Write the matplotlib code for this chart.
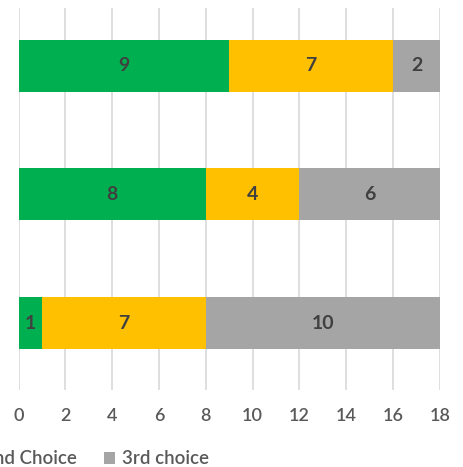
import matplotlib
matplotlib.use("Agg")
import matplotlib.pyplot as plt
from matplotlib.patches import Patch

categories = ["C", "B", "A"]  # bottom to top (labels off-canvas in reference)
first_choice = [1, 8, 9]
second_choice = [7, 4, 7]
third_choice = [10, 6, 2]
series_names = ["1st Choice", "2nd Choice", "3rd choice"]
colors = ["#00B050", "#FFC000", "#A5A5A5"]
xticks = list(range(0, 20, 2))

plt.rcParams['font.family'] = ['Lato', 'DejaVu Sans']

W, H = 464, 467
fig = plt.figure(figsize=(W / 100, H / 100), dpi=100)
ax = fig.add_axes([18.5 / W, 1 - 390 / H, (440 - 18.5) / W, 382 / H])

ypos = list(range(len(categories)))
left = [0] * len(categories)
for vals, col in zip([first_choice, second_choice, third_choice], colors):
    ax.barh(ypos, vals, left=left, height=0.404, color=col, zorder=3)
    for y, v, l in zip(ypos, vals, left):
        ax.text(l + v / 2, y, str(v), ha='center', va='center', fontsize=14,
                fontweight='bold', color='#404040', zorder=4)
    left = [a + b for a, b in zip(left, vals)]

ax.set_xlim(0, 18)
ax.set_ylim(-0.520, 2.447)
ax.set_xticks(xticks)
ax.set_xticklabels([str(t) for t in xticks], fontsize=13, color='#595959',
                   fontweight='semibold')
ax.set_yticks([])
ax.tick_params(axis='x', length=0, pad=13)
ax.grid(axis='x', color='#D9D9D9', linewidth=1.2, zorder=0)
for s in ax.spines.values():
    s.set_visible(False)

handles = [Patch(facecolor=c, edgecolor='none') for c in colors]
leg = fig.legend(handles, series_names, loc='center left', ncol=3,
                 bbox_to_anchor=(0, 1 - 459 / H), frameon=False,
                 prop={'size': 13.4, 'weight': 'semibold'},
                 labelcolor='#595959', handlelength=0.6, handleheight=0.6,
                 handletextpad=0.35, columnspacing=1.5, borderaxespad=0, borderpad=0)
fig.canvas.draw()
r = fig.canvas.get_renderer()
t3 = leg.get_texts()[2].get_window_extent(r)
shift = (122 - t3.x0) / W
leg.set_bbox_to_anchor((shift, 1 - 459 / H), transform=fig.transFigure)

fig.savefig("out.png", dpi=100)
